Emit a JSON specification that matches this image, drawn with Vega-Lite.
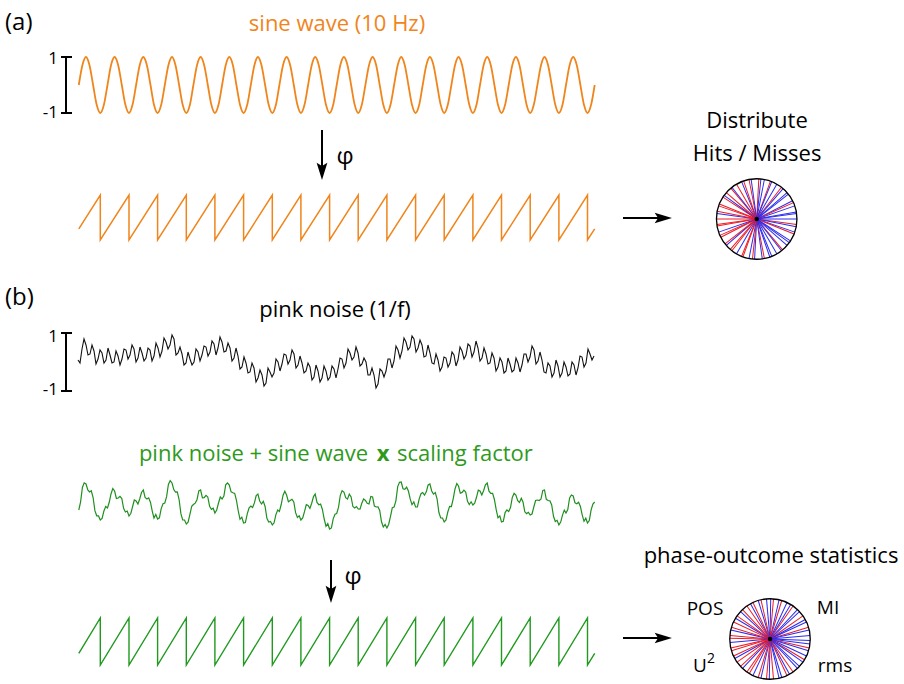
{
"$schema":"https://vega.github.io/schema/vega-lite/v6.json",
"width":904,"height":684,"padding":0,
"autosize":{"type":"fit","contains":"padding"},
"config":{"view":{"stroke":null},"font":"Open Sans"},
"datasets":{
"sine":[{"x":78.8,"y":85},{"x":82.4,"y":65.2},{"x":86.0,"y":57},{"x":89.5,"y":65.2},{"x":93.1,"y":85},{"x":96.7,"y":104.8},{"x":100.3,"y":113},{"x":103.9,"y":104.8},{"x":107.5,"y":85},{"x":111.0,"y":65.2},{"x":114.6,"y":57},{"x":118.2,"y":65.2},{"x":121.8,"y":85},{"x":125.4,"y":104.8},{"x":129.0,"y":113},{"x":132.5,"y":104.8},{"x":136.1,"y":85},{"x":139.7,"y":65.2},{"x":143.3,"y":57},{"x":146.9,"y":65.2},{"x":150.5,"y":85},{"x":154.0,"y":104.8},{"x":157.6,"y":113},{"x":161.2,"y":104.8},{"x":164.8,"y":85},{"x":168.4,"y":65.2},{"x":172.0,"y":57},{"x":175.5,"y":65.2},{"x":179.1,"y":85},{"x":182.7,"y":104.8},{"x":186.3,"y":113},{"x":189.9,"y":104.8},{"x":193.4,"y":85},{"x":197.0,"y":65.2},{"x":200.6,"y":57},{"x":204.2,"y":65.2},{"x":207.8,"y":85},{"x":211.4,"y":104.8},{"x":214.9,"y":113},{"x":218.5,"y":104.8},{"x":222.1,"y":85},{"x":225.7,"y":65.2},{"x":229.3,"y":57},{"x":232.9,"y":65.2},{"x":236.4,"y":85},{"x":240.0,"y":104.8},{"x":243.6,"y":113},{"x":247.2,"y":104.8},{"x":250.8,"y":85},{"x":254.4,"y":65.2},{"x":257.9,"y":57},{"x":261.5,"y":65.2},{"x":265.1,"y":85},{"x":268.7,"y":104.8},{"x":272.3,"y":113},{"x":275.9,"y":104.8},{"x":279.4,"y":85},{"x":283.0,"y":65.2},{"x":286.6,"y":57},{"x":290.2,"y":65.2},{"x":293.8,"y":85},{"x":297.4,"y":104.8},{"x":300.9,"y":113},{"x":304.5,"y":104.8},{"x":308.1,"y":85},{"x":311.7,"y":65.2},{"x":315.2,"y":57},{"x":318.8,"y":65.2},{"x":322.4,"y":85},{"x":326.0,"y":104.8},{"x":329.6,"y":113},{"x":333.2,"y":104.8},{"x":336.7,"y":85},{"x":340.3,"y":65.2},{"x":343.9,"y":57},{"x":347.5,"y":65.2},{"x":351.1,"y":85},{"x":354.7,"y":104.8},{"x":358.2,"y":113},{"x":361.8,"y":104.8},{"x":365.4,"y":85},{"x":369.0,"y":65.2},{"x":372.6,"y":57},{"x":376.2,"y":65.2},{"x":379.7,"y":85},{"x":383.3,"y":104.8},{"x":386.9,"y":113},{"x":390.5,"y":104.8},{"x":394.1,"y":85},{"x":397.7,"y":65.2},{"x":401.2,"y":57},{"x":404.8,"y":65.2},{"x":408.4,"y":85},{"x":412.0,"y":104.8},{"x":415.6,"y":113},{"x":419.2,"y":104.8},{"x":422.7,"y":85},{"x":426.3,"y":65.2},{"x":429.9,"y":57},{"x":433.5,"y":65.2},{"x":437.1,"y":85},{"x":440.7,"y":104.8},{"x":444.2,"y":113},{"x":447.8,"y":104.8},{"x":451.4,"y":85},{"x":455.0,"y":65.2},{"x":458.5,"y":57},{"x":462.1,"y":65.2},{"x":465.7,"y":85},{"x":469.3,"y":104.8},{"x":472.9,"y":113},{"x":476.5,"y":104.8},{"x":480.0,"y":85},{"x":483.6,"y":65.2},{"x":487.2,"y":57},{"x":490.8,"y":65.2},{"x":494.4,"y":85},{"x":498.0,"y":104.8},{"x":501.5,"y":113},{"x":505.1,"y":104.8},{"x":508.7,"y":85},{"x":512.3,"y":65.2},{"x":515.9,"y":57},{"x":519.5,"y":65.2},{"x":523.0,"y":85},{"x":526.6,"y":104.8},{"x":530.2,"y":113},{"x":533.8,"y":104.8},{"x":537.4,"y":85},{"x":541.0,"y":65.2},{"x":544.5,"y":57},{"x":548.1,"y":65.2},{"x":551.7,"y":85},{"x":555.3,"y":104.8},{"x":558.9,"y":113},{"x":562.5,"y":104.8},{"x":566.0,"y":85},{"x":569.6,"y":65.2},{"x":573.2,"y":57},{"x":576.8,"y":65.2},{"x":580.4,"y":85},{"x":584.0,"y":104.8},{"x":587.5,"y":113},{"x":591.1,"y":104.8},{"x":594.7,"y":85}],
"sawA":[{"x":78.8,"y":228.8},{"x":100.3,"y":195},{"x":100.3,"y":240},{"x":129.0,"y":195},{"x":129.0,"y":240},{"x":157.6,"y":195},{"x":157.6,"y":240},{"x":186.3,"y":195},{"x":186.3,"y":240},{"x":214.9,"y":195},{"x":214.9,"y":240},{"x":243.6,"y":195},{"x":243.6,"y":240},{"x":272.3,"y":195},{"x":272.3,"y":240},{"x":300.9,"y":195},{"x":300.9,"y":240},{"x":329.6,"y":195},{"x":329.6,"y":240},{"x":358.2,"y":195},{"x":358.2,"y":240},{"x":386.9,"y":195},{"x":386.9,"y":240},{"x":415.6,"y":195},{"x":415.6,"y":240},{"x":444.2,"y":195},{"x":444.2,"y":240},{"x":472.9,"y":195},{"x":472.9,"y":240},{"x":501.5,"y":195},{"x":501.5,"y":240},{"x":530.2,"y":195},{"x":530.2,"y":240},{"x":558.9,"y":195},{"x":558.9,"y":240},{"x":587.5,"y":195},{"x":587.5,"y":240},{"x":594.7,"y":228.8}],
"sawB":[{"x":78.8,"y":653.3},{"x":100.3,"y":618},{"x":100.3,"y":665},{"x":129.0,"y":618},{"x":129.0,"y":665},{"x":157.6,"y":618},{"x":157.6,"y":665},{"x":186.3,"y":618},{"x":186.3,"y":665},{"x":214.9,"y":618},{"x":214.9,"y":665},{"x":243.6,"y":618},{"x":243.6,"y":665},{"x":272.3,"y":618},{"x":272.3,"y":665},{"x":300.9,"y":618},{"x":300.9,"y":665},{"x":329.6,"y":618},{"x":329.6,"y":665},{"x":358.2,"y":618},{"x":358.2,"y":665},{"x":386.9,"y":618},{"x":386.9,"y":665},{"x":415.6,"y":618},{"x":415.6,"y":665},{"x":444.2,"y":618},{"x":444.2,"y":665},{"x":472.9,"y":618},{"x":472.9,"y":665},{"x":501.5,"y":618},{"x":501.5,"y":665},{"x":530.2,"y":618},{"x":530.2,"y":665},{"x":558.9,"y":618},{"x":558.9,"y":665},{"x":587.5,"y":618},{"x":587.5,"y":665},{"x":594.7,"y":653.3}],
"noise":[{"x":78,"y":360},{"x":80,"y":363},{"x":82,"y":349},{"x":84,"y":339},{"x":86,"y":345},{"x":88,"y":355},{"x":90,"y":354},{"x":92,"y":345},{"x":94,"y":351},{"x":96,"y":364},{"x":98,"y":359},{"x":100,"y":350},{"x":102,"y":353},{"x":104,"y":363},{"x":106,"y":360},{"x":108,"y":348},{"x":110,"y":355},{"x":112,"y":363},{"x":114,"y":362},{"x":116,"y":351},{"x":118,"y":356},{"x":120,"y":365},{"x":122,"y":359},{"x":124,"y":349},{"x":126,"y":350},{"x":128,"y":359},{"x":130,"y":355},{"x":132,"y":345},{"x":134,"y":349},{"x":136,"y":362},{"x":138,"y":358},{"x":140,"y":347},{"x":142,"y":353},{"x":144,"y":361},{"x":146,"y":358},{"x":148,"y":348},{"x":150,"y":350},{"x":152,"y":361},{"x":154,"y":356},{"x":156,"y":343},{"x":158,"y":348},{"x":160,"y":357},{"x":162,"y":351},{"x":164,"y":338},{"x":166,"y":342},{"x":168,"y":349},{"x":170,"y":345},{"x":172,"y":335},{"x":174,"y":339},{"x":176,"y":355},{"x":178,"y":353},{"x":180,"y":347},{"x":182,"y":354},{"x":184,"y":365},{"x":186,"y":363},{"x":188,"y":352},{"x":190,"y":359},{"x":192,"y":365},{"x":194,"y":362},{"x":196,"y":349},{"x":198,"y":352},{"x":200,"y":361},{"x":202,"y":355},{"x":204,"y":346},{"x":206,"y":347},{"x":208,"y":356},{"x":210,"y":352},{"x":212,"y":341},{"x":214,"y":344},{"x":216,"y":355},{"x":218,"y":348},{"x":220,"y":337},{"x":222,"y":342},{"x":224,"y":352},{"x":226,"y":351},{"x":228,"y":343},{"x":230,"y":348},{"x":232,"y":361},{"x":234,"y":358},{"x":236,"y":348},{"x":238,"y":356},{"x":240,"y":369},{"x":242,"y":367},{"x":244,"y":357},{"x":246,"y":363},{"x":248,"y":373},{"x":250,"y":372},{"x":252,"y":363},{"x":254,"y":368},{"x":256,"y":382},{"x":258,"y":378},{"x":260,"y":370},{"x":262,"y":375},{"x":264,"y":386},{"x":266,"y":383},{"x":268,"y":368},{"x":270,"y":372},{"x":272,"y":377},{"x":274,"y":373},{"x":276,"y":359},{"x":278,"y":362},{"x":280,"y":371},{"x":282,"y":364},{"x":284,"y":354},{"x":286,"y":355},{"x":288,"y":364},{"x":290,"y":360},{"x":292,"y":350},{"x":294,"y":354},{"x":296,"y":368},{"x":298,"y":365},{"x":300,"y":356},{"x":302,"y":363},{"x":304,"y":373},{"x":306,"y":371},{"x":308,"y":363},{"x":310,"y":367},{"x":312,"y":380},{"x":314,"y":377},{"x":316,"y":365},{"x":318,"y":371},{"x":320,"y":382},{"x":322,"y":378},{"x":324,"y":366},{"x":326,"y":371},{"x":328,"y":380},{"x":330,"y":377},{"x":332,"y":366},{"x":334,"y":369},{"x":336,"y":378},{"x":338,"y":369},{"x":340,"y":358},{"x":342,"y":359},{"x":344,"y":368},{"x":346,"y":363},{"x":348,"y":349},{"x":350,"y":353},{"x":352,"y":360},{"x":354,"y":357},{"x":356,"y":347},{"x":358,"y":353},{"x":360,"y":366},{"x":362,"y":364},{"x":364,"y":358},{"x":366,"y":362},{"x":368,"y":375},{"x":370,"y":375},{"x":372,"y":368},{"x":374,"y":375},{"x":376,"y":388},{"x":378,"y":384},{"x":380,"y":369},{"x":382,"y":371},{"x":384,"y":377},{"x":386,"y":371},{"x":388,"y":359},{"x":390,"y":359},{"x":392,"y":368},{"x":394,"y":361},{"x":396,"y":346},{"x":398,"y":350},{"x":400,"y":358},{"x":402,"y":351},{"x":404,"y":338},{"x":406,"y":342},{"x":408,"y":350},{"x":410,"y":347},{"x":412,"y":336},{"x":414,"y":339},{"x":416,"y":352},{"x":418,"y":348},{"x":420,"y":340},{"x":422,"y":345},{"x":424,"y":357},{"x":426,"y":356},{"x":428,"y":345},{"x":430,"y":353},{"x":432,"y":363},{"x":434,"y":364},{"x":436,"y":354},{"x":438,"y":360},{"x":440,"y":371},{"x":442,"y":367},{"x":444,"y":357},{"x":446,"y":358},{"x":448,"y":367},{"x":450,"y":363},{"x":452,"y":352},{"x":454,"y":355},{"x":456,"y":366},{"x":458,"y":360},{"x":460,"y":347},{"x":462,"y":351},{"x":464,"y":359},{"x":466,"y":355},{"x":468,"y":344},{"x":470,"y":346},{"x":472,"y":357},{"x":474,"y":352},{"x":476,"y":341},{"x":478,"y":348},{"x":480,"y":361},{"x":482,"y":358},{"x":484,"y":348},{"x":486,"y":354},{"x":488,"y":364},{"x":490,"y":363},{"x":492,"y":353},{"x":494,"y":358},{"x":496,"y":371},{"x":498,"y":367},{"x":500,"y":358},{"x":502,"y":362},{"x":504,"y":373},{"x":506,"y":371},{"x":508,"y":358},{"x":510,"y":364},{"x":512,"y":372},{"x":514,"y":370},{"x":516,"y":358},{"x":518,"y":363},{"x":520,"y":372},{"x":522,"y":365},{"x":524,"y":354},{"x":526,"y":354},{"x":528,"y":362},{"x":530,"y":357},{"x":532,"y":346},{"x":534,"y":350},{"x":536,"y":364},{"x":538,"y":361},{"x":540,"y":352},{"x":542,"y":360},{"x":544,"y":372},{"x":546,"y":373},{"x":548,"y":363},{"x":550,"y":366},{"x":552,"y":377},{"x":554,"y":373},{"x":556,"y":360},{"x":558,"y":366},{"x":560,"y":377},{"x":562,"y":373},{"x":564,"y":362},{"x":566,"y":367},{"x":568,"y":376},{"x":570,"y":374},{"x":572,"y":362},{"x":574,"y":365},{"x":576,"y":375},{"x":578,"y":368},{"x":580,"y":356},{"x":582,"y":357},{"x":584,"y":367},{"x":586,"y":363},{"x":588,"y":349},{"x":590,"y":354},{"x":592,"y":360},{"x":594,"y":356}],
"green":[{"x":78.8,"y":510},{"x":80.6,"y":501.8},{"x":82.4,"y":487.5},{"x":84.2,"y":482.8},{"x":86.0,"y":484},{"x":87.8,"y":490},{"x":89.5,"y":492},{"x":91.3,"y":490.8},{"x":93.1,"y":497.5},{"x":94.9,"y":510.7},{"x":96.7,"y":515.8},{"x":98.5,"y":515.9},{"x":100.3,"y":520},{"x":102.1,"y":518.5},{"x":103.9,"y":511},{"x":105.7,"y":506.5},{"x":107.5,"y":508},{"x":109.3,"y":502},{"x":111.0,"y":494},{"x":112.8,"y":488.5},{"x":114.6,"y":491},{"x":116.4,"y":498.5},{"x":118.2,"y":498},{"x":120.0,"y":496.3},{"x":121.8,"y":498.5},{"x":123.6,"y":508.3},{"x":125.4,"y":512},{"x":127.2,"y":511},{"x":129.0,"y":516},{"x":130.8,"y":513.5},{"x":132.5,"y":507},{"x":134.3,"y":500},{"x":136.1,"y":501},{"x":137.9,"y":504},{"x":139.7,"y":499},{"x":141.5,"y":492.5},{"x":143.3,"y":490},{"x":145.1,"y":497.5},{"x":146.9,"y":499},{"x":148.7,"y":497.8},{"x":150.5,"y":502.5},{"x":152.3,"y":511.3},{"x":154.0,"y":518},{"x":155.8,"y":514.5},{"x":157.6,"y":519},{"x":159.4,"y":517.8},{"x":161.2,"y":508.6},{"x":163.0,"y":503.8},{"x":164.8,"y":503},{"x":166.6,"y":496.7},{"x":168.4,"y":484.4},{"x":170.2,"y":480.7},{"x":172.0,"y":483},{"x":173.8,"y":489.6},{"x":175.5,"y":492.2},{"x":177.3,"y":491.9},{"x":179.1,"y":499.5},{"x":180.9,"y":513.7},{"x":182.7,"y":519.9},{"x":184.5,"y":520},{"x":186.3,"y":524},{"x":188.1,"y":522.2},{"x":189.9,"y":514.3},{"x":191.7,"y":506.4},{"x":193.4,"y":504.5},{"x":195.2,"y":503.1},{"x":197.0,"y":499.7},{"x":198.8,"y":490.9},{"x":200.6,"y":490},{"x":202.4,"y":497.9},{"x":204.2,"y":497.7},{"x":206.0,"y":495.4},{"x":207.8,"y":497},{"x":209.6,"y":506.2},{"x":211.4,"y":509.3},{"x":213.2,"y":508.2},{"x":214.9,"y":513},{"x":216.7,"y":510},{"x":218.5,"y":503},{"x":220.3,"y":497},{"x":222.1,"y":499},{"x":223.9,"y":496},{"x":225.7,"y":484.9},{"x":227.5,"y":483},{"x":229.3,"y":485},{"x":231.1,"y":491.9},{"x":232.9,"y":492.7},{"x":234.7,"y":493.4},{"x":236.4,"y":500},{"x":238.2,"y":510.7},{"x":240.0,"y":519.3},{"x":241.8,"y":517.2},{"x":243.6,"y":523},{"x":245.4,"y":522.6},{"x":247.2,"y":514.1},{"x":249.0,"y":508},{"x":250.8,"y":506},{"x":252.6,"y":507.5},{"x":254.4,"y":502.9},{"x":256.2,"y":495.5},{"x":257.9,"y":494},{"x":259.7,"y":501},{"x":261.5,"y":504},{"x":263.3,"y":501.3},{"x":265.1,"y":506.5},{"x":266.9,"y":518.3},{"x":268.7,"y":522},{"x":270.5,"y":521.5},{"x":272.3,"y":525},{"x":274.1,"y":522.8},{"x":275.9,"y":514.6},{"x":277.7,"y":510},{"x":279.4,"y":511.5},{"x":281.2,"y":504.5},{"x":283.0,"y":495.4},{"x":284.8,"y":491.2},{"x":286.6,"y":495},{"x":288.4,"y":501.8},{"x":290.2,"y":500.6},{"x":292.0,"y":499.3},{"x":293.8,"y":502},{"x":295.6,"y":512.7},{"x":297.4,"y":517.4},{"x":299.2,"y":515.7},{"x":300.9,"y":520},{"x":302.7,"y":517.9},{"x":304.5,"y":511.7},{"x":306.3,"y":504.6},{"x":308.1,"y":505.5},{"x":309.9,"y":508.4},{"x":311.7,"y":503.2},{"x":313.5,"y":496.6},{"x":315.2,"y":494},{"x":317.0,"y":502.4},{"x":318.8,"y":504.7},{"x":320.6,"y":504.1},{"x":322.4,"y":509.5},{"x":324.2,"y":519},{"x":326.0,"y":526.4},{"x":327.8,"y":523.7},{"x":329.6,"y":529},{"x":331.4,"y":527.9},{"x":333.2,"y":518.8},{"x":335.0,"y":514.2},{"x":336.7,"y":513.5},{"x":338.5,"y":507.4},{"x":340.3,"y":495.3},{"x":342.1,"y":490.7},{"x":343.9,"y":492},{"x":345.7,"y":497.6},{"x":347.5,"y":499.1},{"x":349.3,"y":494.1},{"x":351.1,"y":497},{"x":352.9,"y":506.5},{"x":354.7,"y":507.9},{"x":356.5,"y":506.5},{"x":358.2,"y":509},{"x":360.0,"y":509.1},{"x":361.8,"y":503.2},{"x":363.6,"y":498.9},{"x":365.4,"y":500.5},{"x":367.2,"y":503.3},{"x":369.0,"y":504},{"x":370.8,"y":496.5},{"x":372.6,"y":497},{"x":374.4,"y":506},{"x":376.2,"y":507},{"x":378.0,"y":506.8},{"x":379.7,"y":510.5},{"x":381.5,"y":521.8},{"x":383.3,"y":527},{"x":385.1,"y":524.5},{"x":386.9,"y":528},{"x":388.7,"y":524.2},{"x":390.5,"y":516.4},{"x":392.3,"y":507.7},{"x":394.1,"y":507},{"x":395.9,"y":500.8},{"x":397.7,"y":486.6},{"x":399.5,"y":482.3},{"x":401.2,"y":482},{"x":403.0,"y":488.7},{"x":404.8,"y":489.3},{"x":406.6,"y":487.2},{"x":408.4,"y":491},{"x":410.2,"y":498.9},{"x":412.0,"y":504.7},{"x":413.8,"y":501.9},{"x":415.6,"y":507},{"x":417.4,"y":507},{"x":419.2,"y":498.9},{"x":421.0,"y":493.7},{"x":422.7,"y":492.5},{"x":424.5,"y":495.2},{"x":426.3,"y":491.9},{"x":428.1,"y":485},{"x":429.9,"y":484},{"x":431.7,"y":491},{"x":433.5,"y":494.1},{"x":435.3,"y":492.6},{"x":437.1,"y":499},{"x":438.9,"y":512.5},{"x":440.7,"y":517.9},{"x":442.5,"y":518},{"x":444.2,"y":522},{"x":446.0,"y":520},{"x":447.8,"y":512},{"x":449.6,"y":506.3},{"x":451.4,"y":506.5},{"x":453.2,"y":498.8},{"x":455.0,"y":489},{"x":456.8,"y":483.5},{"x":458.5,"y":486},{"x":460.3,"y":493.2},{"x":462.1,"y":492.4},{"x":463.9,"y":490.2},{"x":465.7,"y":492},{"x":467.5,"y":501.3},{"x":469.3,"y":504.6},{"x":471.1,"y":501.8},{"x":472.9,"y":505},{"x":474.7,"y":503.2},{"x":476.5,"y":497.3},{"x":478.3,"y":490.2},{"x":480.0,"y":491},{"x":481.8,"y":494.9},{"x":483.6,"y":490.7},{"x":485.4,"y":484.9},{"x":487.2,"y":483},{"x":489.0,"y":491.2},{"x":490.8,"y":493.3},{"x":492.6,"y":493.4},{"x":494.4,"y":499.5},{"x":496.2,"y":509.7},{"x":498.0,"y":517.8},{"x":499.8,"y":515.9},{"x":501.5,"y":522},{"x":503.3,"y":521.3},{"x":505.1,"y":512.6},{"x":506.9,"y":510},{"x":508.7,"y":511.5},{"x":510.5,"y":507.5},{"x":512.3,"y":497.5},{"x":514.1,"y":493.3},{"x":515.9,"y":495},{"x":517.7,"y":500.7},{"x":519.5,"y":502.4},{"x":521.3,"y":498.2},{"x":523.0,"y":502},{"x":524.8,"y":511.8},{"x":526.6,"y":513.6},{"x":528.4,"y":512.3},{"x":530.2,"y":515},{"x":532.0,"y":514},{"x":533.8,"y":507},{"x":535.6,"y":500.5},{"x":537.4,"y":500},{"x":539.2,"y":500.5},{"x":541.0,"y":499},{"x":542.8,"y":490.5},{"x":544.5,"y":490},{"x":546.3,"y":499.3},{"x":548.1,"y":500.5},{"x":549.9,"y":500.8},{"x":551.7,"y":505},{"x":553.5,"y":516.3},{"x":555.3,"y":521.5},{"x":557.1,"y":520.3},{"x":558.9,"y":525},{"x":560.7,"y":522.1},{"x":562.5,"y":515.1},{"x":564.3,"y":510.1},{"x":566.0,"y":513},{"x":567.8,"y":509.5},{"x":569.6,"y":497.9},{"x":571.4,"y":495},{"x":573.2,"y":496},{"x":575.0,"y":502.9},{"x":576.8,"y":503.8},{"x":578.6,"y":502.2},{"x":580.4,"y":506.5},{"x":582.2,"y":514.9},{"x":584.0,"y":521.3},{"x":585.8,"y":518.2},{"x":587.5,"y":523},{"x":589.3,"y":520.5},{"x":591.1,"y":510},{"x":592.9,"y":504},{"x":594.7,"y":502}],
"bars":[{"x":66,"y":57,"x2":66,"y2":113},{"x":61,"y":57,"x2":72,"y2":57},{"x":61,"y":113,"x2":72,"y2":113},{"x":66,"y":333,"x2":66,"y2":391},{"x":61,"y":333,"x2":72,"y2":333},{"x":61,"y":391,"x2":72,"y2":391}],
"shafts":[{"x":322,"y":130,"x2":322,"y2":172},{"x":623,"y":218,"x2":664,"y2":218},{"x":331,"y":560,"x2":331,"y2":595},{"x":623,"y":638,"x2":664,"y2":638}],
"heads":[{"x":322,"y":171.3,"d":"down"},{"x":663.3,"y":218,"d":"right"},{"x":331,"y":594.3,"d":"down"},{"x":663.3,"y":638,"d":"right"}],
"circles":[{"c":"a","x":756.7,"y":219},{"c":"b","x":770,"y":639}],
"radii":[
{"c":"a","a":0,"h":"B"},{"c":"a","a":8,"h":"R"},{"c":"a","a":11,"h":"B"},{"c":"a","a":19,"h":"B"},{"c":"a","a":22,"h":"R"},{"c":"a","a":33,"h":"B"},{"c":"a","a":36,"h":"B"},{"c":"a","a":41,"h":"B"},{"c":"a","a":50,"h":"R"},{"c":"a","a":52,"h":"B"},{"c":"a","a":60,"h":"B"},{"c":"a","a":68,"h":"B"},{"c":"a","a":71,"h":"B"},{"c":"a","a":79,"h":"R"},{"c":"a","a":82,"h":"B"},{"c":"a","a":93,"h":"B"},{"c":"a","a":96,"h":"R"},{"c":"a","a":101,"h":"B"},{"c":"a","a":110,"h":"R"},{"c":"a","a":112,"h":"R"},{"c":"a","a":120,"h":"B"},{"c":"a","a":128,"h":"R"},{"c":"a","a":131,"h":"R"},{"c":"a","a":139,"h":"B"},{"c":"a","a":142,"h":"R"},{"c":"a","a":153,"h":"R"},{"c":"a","a":156,"h":"R"},{"c":"a","a":161,"h":"B"},{"c":"a","a":170,"h":"R"},{"c":"a","a":172,"h":"R"},{"c":"a","a":180,"h":"R"},{"c":"a","a":188,"h":"B"},{"c":"a","a":191,"h":"R"},{"c":"a","a":199,"h":"R"},{"c":"a","a":202,"h":"R"},{"c":"a","a":213,"h":"R"},{"c":"a","a":216,"h":"B"},{"c":"a","a":221,"h":"R"},{"c":"a","a":230,"h":"R"},{"c":"a","a":232,"h":"B"},{"c":"a","a":240,"h":"R"},{"c":"a","a":248,"h":"B"},{"c":"a","a":251,"h":"R"},{"c":"a","a":259,"h":"R"},{"c":"a","a":262,"h":"B"},{"c":"a","a":273,"h":"R"},{"c":"a","a":276,"h":"B"},{"c":"a","a":281,"h":"B"},{"c":"a","a":290,"h":"R"},{"c":"a","a":292,"h":"B"},{"c":"a","a":300,"h":"B"},{"c":"a","a":308,"h":"R"},{"c":"a","a":311,"h":"B"},{"c":"a","a":319,"h":"B"},{"c":"a","a":322,"h":"B"},{"c":"a","a":333,"h":"B"},{"c":"a","a":336,"h":"R"},{"c":"a","a":341,"h":"B"},{"c":"a","a":350,"h":"B"},{"c":"a","a":352,"h":"B"},
{"c":"b","a":2,"h":"B"},{"c":"b","a":7,"h":"B"},{"c":"b","a":13,"h":"R"},{"c":"b","a":17,"h":"B"},{"c":"b","a":25,"h":"B"},{"c":"b","a":31,"h":"R"},{"c":"b","a":35,"h":"B"},{"c":"b","a":43,"h":"B"},{"c":"b","a":47,"h":"B"},{"c":"b","a":55,"h":"R"},{"c":"b","a":61,"h":"B"},{"c":"b","a":65,"h":"R"},{"c":"b","a":73,"h":"B"},{"c":"b","a":77,"h":"B"},{"c":"b","a":85,"h":"R"},{"c":"b","a":91,"h":"B"},{"c":"b","a":95,"h":"R"},{"c":"b","a":103,"h":"B"},{"c":"b","a":107,"h":"R"},{"c":"b","a":115,"h":"B"},{"c":"b","a":121,"h":"R"},{"c":"b","a":125,"h":"R"},{"c":"b","a":133,"h":"B"},{"c":"b","a":137,"h":"R"},{"c":"b","a":145,"h":"R"},{"c":"b","a":151,"h":"B"},{"c":"b","a":155,"h":"R"},{"c":"b","a":163,"h":"R"},{"c":"b","a":167,"h":"R"},{"c":"b","a":175,"h":"B"},{"c":"b","a":181,"h":"R"},{"c":"b","a":185,"h":"R"},{"c":"b","a":193,"h":"B"},{"c":"b","a":197,"h":"R"},{"c":"b","a":205,"h":"R"},{"c":"b","a":211,"h":"B"},{"c":"b","a":215,"h":"R"},{"c":"b","a":223,"h":"B"},{"c":"b","a":227,"h":"R"},{"c":"b","a":235,"h":"R"},{"c":"b","a":241,"h":"B"},{"c":"b","a":245,"h":"R"},{"c":"b","a":253,"h":"B"},{"c":"b","a":257,"h":"R"},{"c":"b","a":265,"h":"B"},{"c":"b","a":271,"h":"B"},{"c":"b","a":275,"h":"R"},{"c":"b","a":283,"h":"B"},{"c":"b","a":287,"h":"R"},{"c":"b","a":295,"h":"B"},{"c":"b","a":301,"h":"B"},{"c":"b","a":305,"h":"R"},{"c":"b","a":313,"h":"B"},{"c":"b","a":317,"h":"B"},{"c":"b","a":325,"h":"R"},{"c":"b","a":331,"h":"B"},{"c":"b","a":335,"h":"B"},{"c":"b","a":343,"h":"R"},{"c":"b","a":347,"h":"B"},{"c":"b","a":355,"h":"B"}],
"texts":[
{"r":"to","x":337,"y":31,"t":"sine wave (10 Hz)"},
{"r":"tk","x":757,"y":128,"t":"Distribute"},
{"r":"tk","x":757,"y":161,"t":"Hits / Misses"},
{"r":"tk","x":335,"y":317,"t":"pink noise (1/f)"},
{"r":"tk","x":771,"y":563,"t":"phase-outcome statistics"},
{"r":"g1","x":368,"y":461,"t":"pink noise + sine wave"},
{"r":"gx","x":383,"y":461,"t":"x"},
{"r":"g2","x":397,"y":461,"t":"scaling factor"},
{"r":"pl","x":5,"y":30,"t":"(a)"},
{"r":"pl","x":5,"y":305,"t":"(b)"},
{"r":"sc","x":58,"y":64,"t":"1"},
{"r":"sc","x":58,"y":118,"t":"-1"},
{"r":"sc","x":58,"y":342,"t":"1"},
{"r":"sc","x":58,"y":395,"t":"-1"},
{"r":"st","x":705,"y":615,"t":"POS"},
{"r":"st","x":828,"y":614,"t":"MI"},
{"r":"st","x":835,"y":672,"t":"rms"},
{"r":"u","x":693,"y":672,"t":"U"},
{"r":"u2","x":707,"y":663,"t":"2"},
{"r":"ph","x":345,"y":157,"t":"φ"},
{"r":"ph","x":353,"y":577,"t":"φ"}]
},
"layer":[
{"data":{"name":"sine"},"mark":{"type":"line","color":"#f0851c","strokeWidth":1.8,"interpolate":"monotone"},
 "encoding":{"x":{"field":"x","type":"quantitative","scale":{"domain":[0,904],"nice":false,"zero":false},"axis":null},"y":{"field":"y","type":"quantitative","scale":{"domain":[0,684],"nice":false,"zero":false,"reverse":true},"axis":null},"order":{"value":null}}},
{"data":{"name":"sawA"},"mark":{"type":"line","color":"#f0851c","strokeWidth":1.5},
 "encoding":{"x":{"field":"x","type":"quantitative","axis":null},"y":{"field":"y","type":"quantitative","axis":null},"order":{"value":null}}},
{"data":{"name":"noise"},"mark":{"type":"line","color":"#111111","strokeWidth":1.1},
 "encoding":{"x":{"field":"x","type":"quantitative","axis":null},"y":{"field":"y","type":"quantitative","axis":null},"order":{"value":null}}},
{"data":{"name":"green"},"mark":{"type":"line","color":"#1f8f1f","strokeWidth":1.2},
 "encoding":{"x":{"field":"x","type":"quantitative","axis":null},"y":{"field":"y","type":"quantitative","axis":null},"order":{"value":null}}},
{"data":{"name":"sawB"},"mark":{"type":"line","color":"#1f9a1f","strokeWidth":1.4},
 "encoding":{"x":{"field":"x","type":"quantitative","axis":null},"y":{"field":"y","type":"quantitative","axis":null},"order":{"value":null}}},
{"data":{"name":"bars"},"mark":{"type":"rule","color":"#000000","strokeWidth":2},
 "encoding":{"x":{"field":"x","type":"quantitative","axis":null},"y":{"field":"y","type":"quantitative","axis":null},"x2":{"field":"x2"},"y2":{"field":"y2"}}},
{"data":{"name":"shafts"},"mark":{"type":"rule","color":"#000000","strokeWidth":2},
 "encoding":{"x":{"field":"x","type":"quantitative","axis":null},"y":{"field":"y","type":"quantitative","axis":null},"x2":{"field":"x2"},"y2":{"field":"y2"}}},
{"data":{"name":"heads"},"mark":{"type":"point","filled":true,"color":"#000000","size":300,"opacity":1,"strokeWidth":0},
 "encoding":{"x":{"field":"x","type":"quantitative","axis":null},"y":{"field":"y","type":"quantitative","axis":null},
 "shape":{"field":"d","type":"nominal","scale":{"domain":["right","down"],"range":["M1,0L-1,-0.62L-0.6,0L-1,0.62Z","M0,1L-0.62,-1L0,-0.6L0.62,-1Z"]},"legend":null}}},
{"data":{"name":"radii"},"transform":[{"lookup":"c","from":{"data":{"name":"circles"},"key":"c","fields":["x","y"]}}],
 "mark":{"type":"point","shape":"M0,0L1,0","filled":false,"strokeWidth":1,"size":6480,"opacity":1},
 "encoding":{"x":{"field":"x","type":"quantitative","axis":null},"y":{"field":"y","type":"quantitative","axis":null},
 "angle":{"field":"a","type":"quantitative","scale":null},
 "color":{"field":"h","type":"nominal","scale":{"domain":["R","B"],"range":["#ee1c25","#2b2bf0"]},"legend":null}}},
{"data":{"name":"circles"},"mark":{"type":"point","shape":"circle","filled":false,"color":"#000000","strokeWidth":1.3,"size":6480,"opacity":1},
 "encoding":{"x":{"field":"x","type":"quantitative","axis":null},"y":{"field":"y","type":"quantitative","axis":null}}},
{"data":{"name":"circles"},"mark":{"type":"point","shape":"circle","filled":true,"color":"#000000","size":20,"opacity":1},
 "encoding":{"x":{"field":"x","type":"quantitative","axis":null},"y":{"field":"y","type":"quantitative","axis":null}}},
{"data":{"name":"texts"},"transform":[{"filter":"datum.r=='to'"}],"mark":{"type":"text","font":"Open Sans","fontSize":22,"align":"center","baseline":"alphabetic","color":"#f0851c"},
 "encoding":{"x":{"field":"x","type":"quantitative","axis":null},"y":{"field":"y","type":"quantitative","axis":null},"text":{"field":"t"}}},
{"data":{"name":"texts"},"transform":[{"filter":"datum.r=='tk'"}],"mark":{"type":"text","font":"Open Sans","fontSize":22,"align":"center","baseline":"alphabetic","color":"#000000"},
 "encoding":{"x":{"field":"x","type":"quantitative","axis":null},"y":{"field":"y","type":"quantitative","axis":null},"text":{"field":"t"}}},
{"data":{"name":"texts"},"transform":[{"filter":"datum.r=='g1'"}],"mark":{"type":"text","font":"Open Sans","fontSize":22,"align":"right","baseline":"alphabetic","color":"#2e9a1c"},
 "encoding":{"x":{"field":"x","type":"quantitative","axis":null},"y":{"field":"y","type":"quantitative","axis":null},"text":{"field":"t"}}},
{"data":{"name":"texts"},"transform":[{"filter":"datum.r=='gx'"}],"mark":{"type":"text","font":"Open Sans","fontSize":22,"fontWeight":"bold","align":"center","baseline":"alphabetic","color":"#2e9a1c"},
 "encoding":{"x":{"field":"x","type":"quantitative","axis":null},"y":{"field":"y","type":"quantitative","axis":null},"text":{"field":"t"}}},
{"data":{"name":"texts"},"transform":[{"filter":"datum.r=='g2'"}],"mark":{"type":"text","font":"Open Sans","fontSize":22,"align":"left","baseline":"alphabetic","color":"#2e9a1c"},
 "encoding":{"x":{"field":"x","type":"quantitative","axis":null},"y":{"field":"y","type":"quantitative","axis":null},"text":{"field":"t"}}},
{"data":{"name":"texts"},"transform":[{"filter":"datum.r=='pl'"}],"mark":{"type":"text","font":"Open Sans","fontSize":24,"align":"left","baseline":"alphabetic","color":"#000000"},
 "encoding":{"x":{"field":"x","type":"quantitative","axis":null},"y":{"field":"y","type":"quantitative","axis":null},"text":{"field":"t"}}},
{"data":{"name":"texts"},"transform":[{"filter":"datum.r=='sc'"}],"mark":{"type":"text","font":"Open Sans","fontSize":17,"align":"right","baseline":"alphabetic","color":"#000000"},
 "encoding":{"x":{"field":"x","type":"quantitative","axis":null},"y":{"field":"y","type":"quantitative","axis":null},"text":{"field":"t"}}},
{"data":{"name":"texts"},"transform":[{"filter":"datum.r=='st'"}],"mark":{"type":"text","font":"Open Sans","fontSize":19,"align":"center","baseline":"alphabetic","color":"#000000"},
 "encoding":{"x":{"field":"x","type":"quantitative","axis":null},"y":{"field":"y","type":"quantitative","axis":null},"text":{"field":"t"}}},
{"data":{"name":"texts"},"transform":[{"filter":"datum.r=='u'"}],"mark":{"type":"text","font":"Open Sans","fontSize":19,"align":"left","baseline":"alphabetic","color":"#000000"},
 "encoding":{"x":{"field":"x","type":"quantitative","axis":null},"y":{"field":"y","type":"quantitative","axis":null},"text":{"field":"t"}}},
{"data":{"name":"texts"},"transform":[{"filter":"datum.r=='u2'"}],"mark":{"type":"text","font":"Open Sans","fontSize":14,"align":"left","baseline":"alphabetic","color":"#000000"},
 "encoding":{"x":{"field":"x","type":"quantitative","axis":null},"y":{"field":"y","type":"quantitative","axis":null},"text":{"field":"t"}}},
{"data":{"name":"texts"},"transform":[{"filter":"datum.r=='ph'"}],"mark":{"type":"text","font":"Open Sans","fontSize":24,"align":"center","baseline":"middle","color":"#000000"},
 "encoding":{"x":{"field":"x","type":"quantitative","axis":null},"y":{"field":"y","type":"quantitative","axis":null},"text":{"field":"t"}}}
]
}
